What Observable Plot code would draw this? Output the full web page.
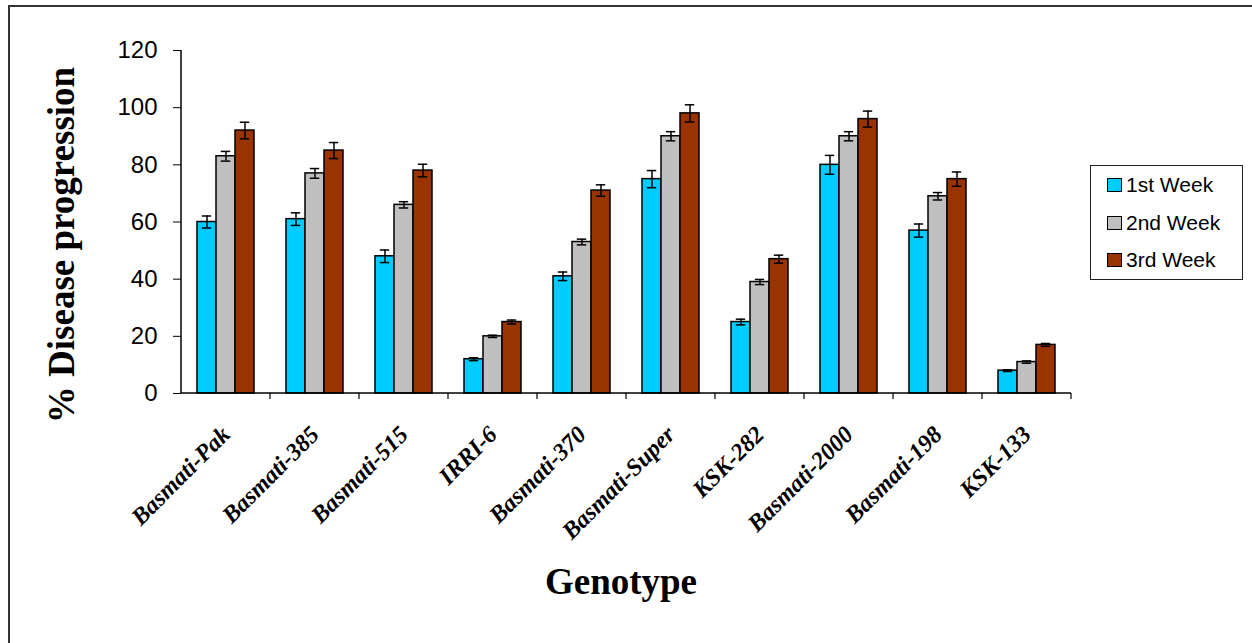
<!DOCTYPE html>
<html><head><meta charset="utf-8">
<script src="https://cdn.jsdelivr.net/npm/d3@7"></script>
<script src="https://cdn.jsdelivr.net/npm/@observablehq/plot@0.6"></script>
<style>
body{margin:0;background:#fff;}
#wrap{position:relative;width:1252px;height:643px;overflow:hidden;background:#fff;}
#border{position:absolute;left:8px;top:5px;width:1280px;height:680px;border:2px solid #333;box-sizing:border-box;}
#chart{position:absolute;left:0;top:0;}
#legend{position:absolute;left:1090px;top:165px;width:153px;height:115px;border:1.5px solid #222;box-sizing:border-box;font-family:"Liberation Sans",Arial,sans-serif;font-size:21px;color:#000;}
.item{position:absolute;left:16px;height:24px;display:flex;align-items:center;}
.sw{width:13px;height:12px;border:1.5px solid #000;margin-right:4px;}
</style></head><body>
<div id="wrap"><div id="border"></div><div id="chart"></div><div id="legend"></div></div>
<script>
const genotypes = ["Basmati-Pak","Basmati-385","Basmati-515","IRRI-6","Basmati-370","Basmati-Super","KSK-282","Basmati-2000","Basmati-198","KSK-133"];
const weeks = ["1st Week","2nd Week","3rd Week"];
const week1 = [60,61,48,12,41,75,25,80,57,8];
const week2 = [83,77,66,20,53,90,39,90,69,11];
const week3 = [92,85,78,25,71,98,47,96,75,17];
const err1 = [2.1,2.2,2.2,0.5,1.5,3.0,1.0,3.3,2.3,0.3];
const err2 = [1.7,1.7,1.1,0.4,1.0,1.6,0.9,1.6,1.3,0.4];
const err3 = [2.9,2.8,2.2,0.7,2.0,3.0,1.4,2.8,2.5,0.5];
const colors = ["#00CCFF","#C0C0C0","#993300"];
const yTicks = [0,20,40,60,80,100,120];

const series = [week1, week2, week3];
const errs = [err1, err2, err3];
const data = genotypes.flatMap((g, i) => weeks.map((w, j) => ({genotype: g, week: w, value: series[j][i], err: errs[j][i]})));

const chart = Plot.plot({
  width: 1252, height: 643,
  marginLeft: 180, marginRight: 180, marginTop: 50, marginBottom: 250,
  style: {background: "transparent", overflow: "visible"},
  fx: {domain: genotypes, paddingInner: 0, paddingOuter: 0, label: null},
  x: {domain: weeks, paddingInner: 0, paddingOuter: 0.78, axis: null},
  y: {domain: [0, 120], axis: null},
  color: {domain: weeks, range: colors},
  marks: [
    Plot.barY(data, {fx: "genotype", x: "week", y: "value", fill: "week", stroke: "#000", strokeWidth: 1.5}),
    Plot.ruleX(data, {fx: "genotype", x: "week", y1: d => d.value - d.err, y2: d => d.value + d.err, stroke: "#000", strokeWidth: 1.5}),
    Plot.tickY(data, {fx: "genotype", x: "week", y: d => d.value + d.err, insetLeft: 4.8, insetRight: 4.8, stroke: "#000", strokeWidth: 1.5}),
    Plot.tickY(data, {fx: "genotype", x: "week", y: d => d.value - d.err, insetLeft: 4.8, insetRight: 4.8, stroke: "#000", strokeWidth: 1.5}),
    Plot.axisY({ticks: yTicks, tickSize: 8, tickPadding: 16, fontSize: 24, fontFamily: "Liberation Sans, Arial, sans-serif", label: null, color: "#000"}),
    Plot.axisFx({anchor: "bottom", tickSize: 0, tickPadding: 37, tickRotate: -45, fontSize: 24, fontFamily: "Liberation Serif, Times New Roman, serif", fontStyle: "italic", fontWeight: "bold", label: null, color: "#000"})
  ]
});
document.getElementById("chart").appendChild(chart);

const svg = d3.select(chart);
const fx = chart.scale("fx");
const y = chart.scale("y");
const x0 = fx.apply(genotypes[0]);
const x1 = fx.apply(genotypes[genotypes.length - 1]) + fx.bandwidth;
const y0 = y.apply(0), yTop = y.apply(120);
// axis lines
svg.append("line").attr("x1", x0).attr("x2", x0).attr("y1", yTop).attr("y2", y0).attr("stroke", "#000").attr("stroke-width", 1.5);
svg.append("line").attr("x1", x0).attr("x2", x1).attr("y1", y0).attr("y2", y0).attr("stroke", "#000").attr("stroke-width", 1.5);
// category boundary ticks
genotypes.forEach(g => {
  const xb = fx.apply(g) + fx.bandwidth;
  svg.append("line").attr("x1", xb).attr("x2", xb).attr("y1", y0).attr("y2", y0 + 6).attr("stroke", "#000").attr("stroke-width", 1.2);
});
// titles
svg.append("text").attr("transform", `translate(61,245) rotate(-90)`)
  .attr("text-anchor", "middle").attr("dominant-baseline", "central")
  .style("font", "bold 37px 'Liberation Serif', 'Times New Roman', serif").attr("fill", "#000")
  .text("% Disease progression");
svg.append("text").attr("x", 621).attr("y", 594)
  .attr("text-anchor", "middle")
  .style("font", "bold 37px 'Liberation Serif', 'Times New Roman', serif").attr("fill", "#000")
  .text("Genotype");

// legend
const legend = d3.select("#legend");
weeks.forEach((w, j) => {
  const it = legend.append("div").attr("class", "item").style("top", (7 + j * 37.5) + "px");
  it.append("div").attr("class", "sw").style("background", colors[j]);
  it.append("span").text(w);
});
</script>
</body></html>
